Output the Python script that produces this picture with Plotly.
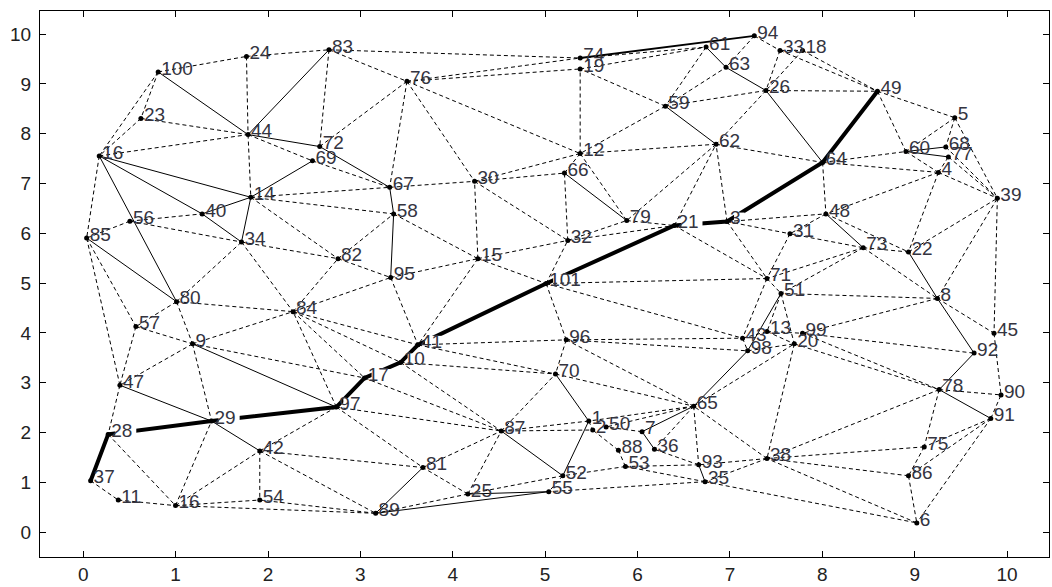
import plotly.graph_objects as go

node_ids = [1,2,3,4,5,6,7,8,9,10,11,12,13,14,15,16,17,18,19,20,21,22,23,24,25,26,28,29,30,
            31,32,33,34,35,36,37,38,39,40,41,42,43,44,45,46,47,48,49,50,51,52,53,54,55,56,57,58,59,60,
            61,62,63,64,65,66,67,68,69,70,71,72,73,74,75,76,77,78,79,80,81,82,83,84,85,86,87,88,89,90,
            91,92,93,94,95,96,97,98,99,100,101]
node_x = [5.472,5.515,6.969,9.257,9.434,9.023,6.049,9.246,1.183,3.436,0.379,5.379,7.401,1.814,4.272,0.999,3.046,7.786,5.379,7.697,6.399,8.933,0.624,1.767,4.163,7.390,0.270,1.389,4.236,
          7.650,5.245,7.542,1.713,6.731,6.183,0.080,7.401,9.895,1.287,3.623,1.911,7.137,1.784,9.859,0.173,0.397,8.039,8.597,5.660,7.553,5.191,5.869,1.911,5.039,0.505,0.570,3.360,6.301,8.905,
          6.742,6.850,6.958,8.003,6.608,5.209,3.317,9.337,2.481,5.112,7.401,2.560,8.443,5.379,9.103,3.504,9.365,9.265,5.883,1.010,3.677,2.758,2.660,2.271,0.037,8.933,4.525,5.793,3.165,9.935,
          9.824,9.643,6.662,7.264,3.328,5.228,2.740,7.192,7.786,0.811,5.011]
node_y = [2.231,2.051,6.237,7.224,8.322,0.186,2.017,4.693,3.781,3.409,0.645,7.603,4.028,6.725,5.492,0.533,3.096,9.673,9.301,3.781,6.157,5.626,8.308,9.553,0.765,8.868,1.963,2.231,7.044,
          5.992,5.858,9.673,5.826,1.013,1.664,1.033,1.478,6.705,6.391,3.761,1.632,3.895,7.983,3.994,7.555,2.950,6.391,8.854,2.111,4.793,1.132,1.318,0.645,0.813,6.245,4.128,6.391,8.554,7.643,
          9.740,7.789,9.333,7.424,2.530,7.210,6.924,7.735,7.456,3.176,5.093,7.743,5.712,9.521,1.712,9.053,7.535,2.862,6.257,4.628,1.298,5.492,9.686,4.428,5.906,1.132,2.031,1.644,0.379,2.756,
          2.283,3.595,1.352,9.966,5.113,3.861,2.511,3.641,3.994,9.241,4.993]
node_labels = [str(i) for i in node_ids]
node_labels[node_ids.index(46)] = "16"

path_nodes = [37,28,29,97,17,10,41,101,21,3,64,49]

solid_edges = [(46,14),(46,40),(46,80),(85,80),(44,72),(44,83),(100,44),(14,69),(14,34),(40,34),
               (40,14),(72,67),(67,58),(58,95),(47,29),(9,97),(29,42),(81,89),(79,66),
               (61,63),(26,63),(59,62),(26,64),(60,68),(60,77),(48,73),(22,8),(8,92),(92,78),
               (78,91),(93,35),(7,36),(1,52),(70,1),(87,52),(55,25),(55,89),(65,98),(51,98),(65,7)]
medium_edges = [(74,94)]

dashed_edges = [(100,24),(100,23),(100,46),(24,44),(24,83),(23,44),(23,46),(46,44),(46,85),(44,14),
                (44,69),(69,67),(83,76),(83,74),(83,72),(76,74),(76,19),(76,72),(76,67),(76,30),
                (76,12),(67,30),(14,67),(14,58),(14,82),(56,40),(56,34),(56,85),(85,57),(85,47),
                (80,34),(80,84),(80,57),(80,9),(57,9),(57,47),(9,84),(9,47),(9,29),(9,17),
                (34,82),(34,84),(47,28),(28,16),(37,11),(11,16),(16,29),(16,42),(16,54),(16,89),
                (42,54),(42,97),(42,81),(42,89),(54,89),(97,84),(97,87),(97,81),(84,41),(84,10),
                (84,17),(84,95),(84,82),(82,58),(82,95),(58,15),(95,15),(95,41),(15,41),(15,30),
                (15,101),(15,32),(30,32),(30,12),(30,66),(41,96),(41,70),(10,70),(10,87),(17,87),
                (101,96),(101,32),(101,71),(101,43),(96,70),(32,79),(32,21),(32,66),(12,79),(79,21),
                (21,62),(21,71),(3,62),(3,31),(3,48),(3,71),(31,71),(71,51),(71,43),(51,13),
                (51,20),(43,13),(43,98),(13,20),(13,99),(98,20),(96,43),(96,98),(96,65),(70,65),
                (65,20),(20,38),(74,61),(19,61),(61,59),(94,63),(94,33),(33,18),(33,26),(18,26),
                (18,49),(33,49),(26,49),(26,59),(26,62),(59,63),(59,19),(59,12),(62,12),(62,64),
                (62,79),(12,19),(12,66),(64,60),(64,4),(64,48),(49,60),(49,5),(5,60),(5,68),
                (5,39),(60,4),(68,39),(77,39),(4,39),(4,77),(4,48),(4,22),(48,31),(48,22),
                (31,73),(73,51),(73,71),(73,22),(73,8),(22,39),(8,39),(8,51),(8,99),(8,45),
                (39,45),(45,90),(99,92),(20,78),(99,78),(78,90),(78,75),(78,38),(91,90),(91,75),
                (91,86),(91,6),(75,38),(75,86),(86,38),(86,6),(6,38),(35,6),(38,93),(38,65),
                (38,35),(65,93),(65,36),(65,50),(65,1),(93,53),(93,36),(35,53),(35,55),(53,52),
                (53,88),(88,2),(7,50),(1,2),(1,87),(52,55),(52,25),(25,89),(25,87),
                (25,81),(81,87),(87,70),(87,2)]

X_RANGE = [-0.468, 10.454]
Y_RANGE = [-0.499, 10.465]
PLOT_W, PLOT_H = 1010, 549          # plot-area size in px
XPX = (X_RANGE[1] - X_RANGE[0]) / PLOT_W
YPX = (Y_RANGE[1] - Y_RANGE[0]) / PLOT_H
FONT = 19
DIGIT_W = 0.556 * FONT

pos = {n: (x, y) for n, x, y in zip(node_ids, node_x, node_y)}


def edge_xy(edges):
    xs, ys = [], []
    for a, b in edges:
        xs += [pos[a][0], pos[b][0], None]
        ys += [pos[a][1], pos[b][1], None]
    return xs, ys


fig = go.Figure()
# thick shortest path (drawn first, partly hidden behind label backgrounds)
fig.add_trace(go.Scatter(x=[pos[n][0] for n in path_nodes], y=[pos[n][1] for n in path_nodes],
                         mode="lines", line=dict(color="black", width=4),
                         hoverinfo="skip", showlegend=False))
# white label backgrounds
mx, my = [], []
for x, y, lab in zip(node_x, node_y, node_labels):
    mx += [x + 7 * XPX, x + (7 + DIGIT_W * len(lab)) * XPX, None]
    my += [y + 2 * YPX, y + 2 * YPX, None]
fig.add_trace(go.Scatter(x=mx, y=my, mode="lines", line=dict(color="white", width=14),
                         hoverinfo="skip", showlegend=False))
dx, dy = edge_xy(dashed_edges)
fig.add_trace(go.Scatter(x=dx, y=dy, mode="lines", line=dict(color="black", width=1, dash="4px,3px"),
                         hoverinfo="skip", showlegend=False))
sx, sy = edge_xy(solid_edges)
fig.add_trace(go.Scatter(x=sx, y=sy, mode="lines", line=dict(color="black", width=1),
                         hoverinfo="skip", showlegend=False))
ex, ey = edge_xy(medium_edges)
fig.add_trace(go.Scatter(x=ex, y=ey, mode="lines", line=dict(color="black", width=1.8),
                         hoverinfo="skip", showlegend=False))
fig.add_trace(go.Scatter(x=node_x, y=node_y, mode="markers",
                         marker=dict(color="black", size=5, symbol="circle"),
                         hoverinfo="skip", showlegend=False))
fig.add_trace(go.Scatter(x=[x + 3 * XPX for x in node_x], y=[y + 2 * YPX for y in node_y],
                         mode="text", text=node_labels, textposition="middle right",
                         textfont=dict(family="Liberation Sans, Arial", size=FONT, color="#34343f"),
                         hoverinfo="skip", showlegend=False))

axis_common = dict(showgrid=False, zeroline=False, showline=True, linecolor="black", linewidth=1,
                   mirror="ticks", ticks="inside", ticklen=6, tickcolor="black",
                   tickfont=dict(family="Liberation Sans, Arial", size=FONT, color="#222222"))
fig.update_xaxes(range=X_RANGE, tickvals=list(range(0, 11)), **axis_common)
fig.update_yaxes(range=Y_RANGE, tickvals=list(range(0, 11)), ticklabelstandoff=4, **axis_common)
fig.update_layout(width=1052, height=587, margin=dict(l=40, r=2, t=11, b=27),
                  plot_bgcolor="white", paper_bgcolor="white")
fig.write_html("out.html", config={"displayModeBar": False},
               post_script="document.body.style.margin='0px';")
